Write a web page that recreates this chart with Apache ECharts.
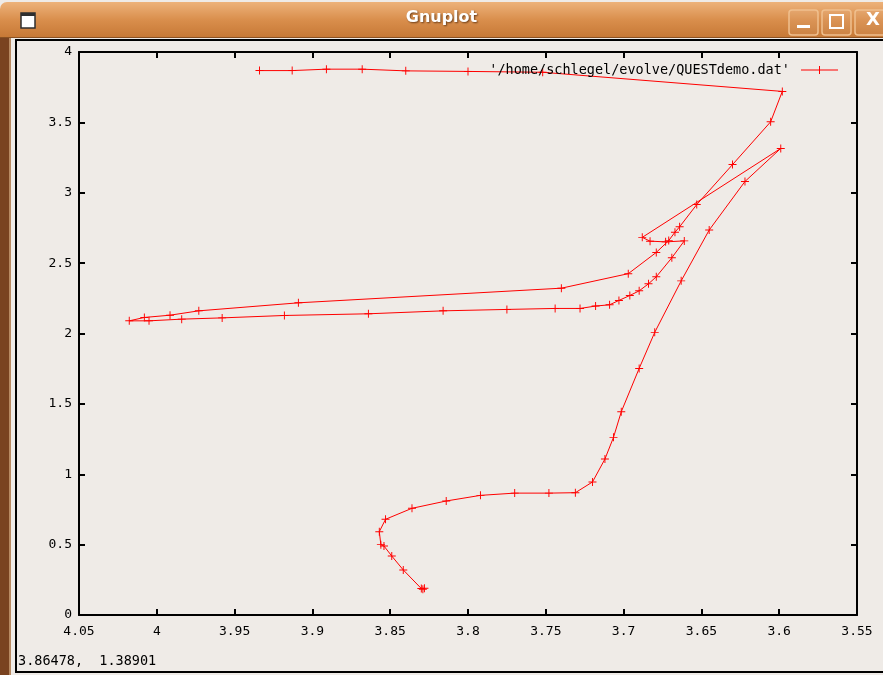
<!DOCTYPE html>
<html>
<head>
<meta charset="utf-8">
<title>Gnuplot</title>
<script src="https://cdn.jsdelivr.net/npm/echarts@6/dist/echarts.min.js"></script>
<style>
    html, body { margin: 0; padding: 0; background: #EFEBE7; }
    #main { width: 883px; height: 675px; }
</style>
</head>
<body>
<div id="main"></div>
<script>
// 数据: log Teff (x) 与 log L (y), 按文件中的顺序
var logTeff = [
    3.828, 3.829, 3.830, 3.8416, 3.849, 3.854, 3.856, 3.857, 3.853, 3.836,
    3.814, 3.792, 3.770, 3.748, 3.731, 3.720, 3.712, 3.7065, 3.7015, 3.690,
    3.680, 3.663, 3.645, 3.622, 3.599,
    3.688, 3.683, 3.673, 3.661,
    3.669, 3.679, 3.684, 3.690, 3.696, 3.703, 3.709, 3.718, 3.728, 3.744,
    3.775, 3.816, 3.864, 3.918, 3.958, 3.984, 4.005, 4.0177,
    4.008, 3.9915, 3.973, 3.909, 3.740, 3.697, 3.679, 3.671, 3.667, 3.664,
    3.653, 3.630, 3.6055, 3.598,
    3.752, 3.800, 3.840, 3.868, 3.891, 3.913, 3.934
];
var logL = [
    0.190, 0.183, 0.188, 0.320, 0.419, 0.490, 0.500, 0.592, 0.680, 0.758,
    0.810, 0.850, 0.866, 0.866, 0.869, 0.945, 1.108, 1.262, 1.444, 1.752,
    2.008, 2.374, 2.735, 3.080, 3.315,
    2.683, 2.656, 2.651, 2.658,
    2.538, 2.403, 2.353, 2.303, 2.270, 2.235, 2.204, 2.195, 2.178, 2.178,
    2.171, 2.161, 2.140, 2.128, 2.111, 2.102, 2.090, 2.090,
    2.114, 2.130, 2.161, 2.218, 2.322, 2.425, 2.576, 2.660, 2.720, 2.758,
    2.916, 3.200, 3.504, 3.720,
    3.856, 3.862, 3.866, 3.878, 3.878, 3.868, 3.868
];
var xTicks = { min: 3.55, max: 4.05, step: 0.05 };
var yTicks = { min: 0, max: 4, step: 0.5 };
var seriesName = "'/home/schlegel/evolve/QUESTdemo.dat'";
var statusText = '3.86478,  1.38901';

var plusSymbol = 'path://M0,4.4H10V5.6H0Z M4.4,0H5.6V10H4.4Z';
var legendIcon = 'path://M0,3.5H37V4.5H0Z M18,0H19V8H18Z';
var monoFont = 'DejaVu Sans Mono';

var points = logTeff.map(function (x, i) {
    return [x, logL[i]];
});

var chart = echarts.init(document.getElementById('main'));

function xAxisOf(pos, showLabel) {
    return {
        type: 'value',
        position: pos,
        inverse: true,
        min: xTicks.min,
        max: xTicks.max,
        interval: xTicks.step,
        axisLine: { show: true, onZero: false, lineStyle: { color: '#000', width: 2 } },
        axisTick: { show: true, inside: true, length: 6, lineStyle: { color: '#000', width: 2 } },
        splitLine: { show: false },
        axisLabel: {
            show: showLabel,
            margin: 10,
            color: '#000',
            fontFamily: monoFont,
            fontSize: 13,
            formatter: function (v) { return String(+v.toFixed(2)); }
        }
    };
}

function yAxisOf(pos, showLabel) {
    return {
        type: 'value',
        position: pos,
        min: yTicks.min,
        max: yTicks.max,
        interval: yTicks.step,
        axisLine: { show: true, onZero: false, lineStyle: { color: '#000', width: 2 } },
        axisTick: { show: true, inside: true, length: 6, lineStyle: { color: '#000', width: 2 } },
        splitLine: { show: false },
        axisLabel: {
            show: showLabel,
            margin: 7,
            color: '#000',
            fontFamily: monoFont,
            fontSize: 13,
            formatter: function (v) { return String(+v.toFixed(1)); }
        }
    };
}

// 窗口外框 (标题栏, 按钮, 画布边框)
var chrome = [
    { type: 'rect', shape: { x: 0, y: 0, width: 883, height: 675 }, style: { fill: '#EFEBE7' }, silent: true },
    {
        type: 'rect', shape: { x: 0, y: 2, width: 900, height: 36, r: [7, 0, 0, 0] }, silent: true,
        style: {
            fill: new echarts.graphic.LinearGradient(0, 0, 0, 1, [
                { offset: 0, color: '#EDB27A' },
                { offset: 0.5, color: '#D98E4C' },
                { offset: 1, color: '#C67835' }
            ])
        }
    },
    { type: 'rect', shape: { x: 0, y: 37, width: 883, height: 1 }, style: { fill: '#8A5122' }, silent: true },
    { type: 'rect', shape: { x: 0, y: 38, width: 9, height: 637 }, style: { fill: '#7A4320' }, silent: true },
    { type: 'rect', shape: { x: 9, y: 38, width: 2, height: 637 }, style: { fill: '#B88A62' }, silent: true },
    // 画布黑边
    { type: 'rect', shape: { x: 16, y: 40, width: 880, height: 632 }, style: { fill: 'none', stroke: '#000', lineWidth: 2 }, silent: true },
    // 左上角图标
    { type: 'rect', shape: { x: 21, y: 13, width: 14, height: 15 }, style: { fill: '#FFFFFF', stroke: '#2E2E2E', lineWidth: 1.5 }, silent: true },
    { type: 'rect', shape: { x: 21, y: 13, width: 14, height: 3 }, style: { fill: '#2E2E2E' }, silent: true },
    {
        type: 'text', left: 'center', top: 10, silent: true,
        style: {
            text: 'Gnuplot', fill: '#FFFFFF', font: 'bold 16px "DejaVu Sans"',
            textShadowColor: 'rgba(80,40,10,0.8)', textShadowBlur: 2, textShadowOffsetX: 1, textShadowOffsetY: 1
        }
    },
    // 最小化 / 最大化 / 关闭
    { type: 'rect', shape: { x: 789, y: 10, width: 29, height: 25, r: 3 }, style: { fill: 'rgba(255,255,255,0.06)', stroke: '#F0C08E', lineWidth: 1.5 }, silent: true },
    { type: 'rect', shape: { x: 797, y: 25, width: 13, height: 3 }, style: { fill: '#FFFFFF' }, silent: true },
    { type: 'rect', shape: { x: 822, y: 10, width: 29, height: 25, r: 3 }, style: { fill: 'rgba(255,255,255,0.06)', stroke: '#F0C08E', lineWidth: 1.5 }, silent: true },
    { type: 'rect', shape: { x: 830, y: 15, width: 13, height: 13 }, style: { fill: 'none', stroke: '#FFFFFF', lineWidth: 2 }, silent: true },
    { type: 'rect', shape: { x: 855, y: 10, width: 40, height: 25, r: 3 }, style: { fill: 'rgba(255,255,255,0.06)', stroke: '#F0C08E', lineWidth: 1.5 }, silent: true },
    {
        type: 'text', left: 866, top: 11, silent: true,
        style: { text: 'X', fill: '#FFFFFF', font: 'bold 18px "DejaVu Sans"' }
    },
    {
        type: 'text', left: 18, top: 654, silent: true,
        style: { text: statusText, fill: '#000', font: '13.5px "DejaVu Sans Mono"' }
    }
];

var option = {
    animation: false,
    backgroundColor: '#EFEBE7',
    graphic: { elements: chrome },
    grid: { left: 79, right: 26, top: 52, bottom: 60 },
    legend: {
        right: 40,
        top: 58,
        align: 'right',
        itemWidth: 37,
        itemHeight: 8,
        icon: legendIcon,
        textStyle: { color: '#000', fontFamily: monoFont, fontSize: 13.5, padding: [0, 6, 0, 0] },
        data: [seriesName]
    },
    xAxis: [xAxisOf('bottom', true), xAxisOf('top', false)],
    yAxis: [yAxisOf('left', true), yAxisOf('right', false)],
    series: [{
        name: seriesName,
        type: 'line',
        xAxisIndex: 0,
        yAxisIndex: 0,
        data: points,
        symbol: plusSymbol,
        symbolSize: 8,
        showAllSymbol: true,
        lineStyle: { color: '#FF0000', width: 1 },
        itemStyle: { color: '#FF0000' },
        z: 3
    }]
};

chart.setOption(option);
</script>
</body>
</html>
